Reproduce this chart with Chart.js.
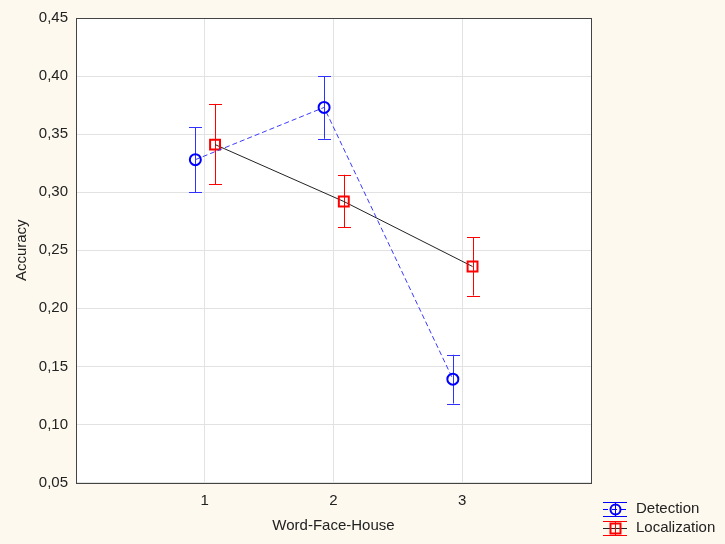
<!DOCTYPE html>
<html>
<head>
<meta charset="utf-8">
<script src="https://cdn.jsdelivr.net/npm/chart.js@4"></script>
<style>
html,body{margin:0;padding:0;background:#FDF9EE;}
#wrap{width:725px;height:544px;}
</style>
</head>
<body>
<div id="wrap"><canvas id="c" width="725" height="544"></canvas></div>
<script>
// ---- data ----
const categories = [1, 2, 3];
const xTickLabels = ['1', '2', '3'];
const seriesNames = ['Detection', 'Localization'];
const detection = [0.328, 0.373, 0.139];
const detectionLow = [0.300, 0.346, 0.118];
const detectionHigh = [0.356, 0.400, 0.160];
const localization = [0.341, 0.292, 0.236];
const localizationLow = [0.307, 0.270, 0.211];
const localizationHigh = [0.376, 0.315, 0.261];
const yTicks = [0.05, 0.10, 0.15, 0.20, 0.25, 0.30, 0.35, 0.40, 0.45];

// ---- style ----
const DODGE_DET = -0.073, DODGE_LOC = 0.08;
const BLUE = '#0000FF', RED = '#FF0000';
const BG = '#FDF9EE';
const FONT_SIZE = 15;

const detPts = categories.map((c, i) => ({x: c + DODGE_DET, y: detection[i], lo: detectionLow[i], hi: detectionHigh[i]}));
const locPts = categories.map((c, i) => ({x: c + DODGE_LOC, y: localization[i], lo: localizationLow[i], hi: localizationHigh[i]}));

Chart.defaults.font.family = '"Liberation Sans", Arial, sans-serif';
Chart.defaults.font.size = FONT_SIZE;
Chart.defaults.color = '#222';

const bgPlugin = {
  id: 'bg',
  beforeDraw(chart) {
    const {ctx, chartArea: a} = chart;
    ctx.save();
    ctx.fillStyle = BG;
    ctx.fillRect(0, 0, chart.width, chart.height);
    ctx.fillStyle = '#FFFFFF';
    ctx.fillRect(a.left, a.top, a.right - a.left, a.bottom - a.top);
    ctx.restore();
  },
  afterDatasetsDraw(chart) {
    const {ctx, chartArea: a} = chart;
    ctx.save();
    ctx.strokeStyle = '#444444';
    ctx.lineWidth = 1;
    ctx.strokeRect(Math.round(a.left) + 0.5, Math.round(a.top) + 0.5, Math.round(a.right - a.left), Math.round(a.bottom - a.top));
    ctx.restore();
  }
};

const errPlugin = {
  id: 'errbars',
  beforeDatasetsDraw(chart) {
    const {ctx, scales: {x, y}} = chart;
    const sets = [[detPts, '#3030FF'], [locPts, RED]];
    ctx.save();
    ctx.lineWidth = 1;
    sets.forEach(([pts, col]) => {
      ctx.strokeStyle = col;
      pts.forEach(p => {
        const px = Math.round(x.getPixelForValue(p.x)) + 0.5;
        const yl = y.getPixelForValue(p.lo), yh = y.getPixelForValue(p.hi);
        ctx.beginPath();
        ctx.moveTo(px, yl); ctx.lineTo(px, yh);
        ctx.moveTo(px - 6.5, Math.round(yl) + 0.5); ctx.lineTo(px + 6.5, Math.round(yl) + 0.5);
        ctx.moveTo(px - 6.5, Math.round(yh) + 0.5); ctx.lineTo(px + 6.5, Math.round(yh) + 0.5);
        ctx.stroke();
      });
    });
    ctx.restore();
  }
};

const legendPlugin = {
  id: 'customLegend',
  afterDraw(chart) {
    const ctx = chart.ctx;
    const x0 = 603, x1 = 627, cx = 615;
    ctx.save();
    ctx.lineWidth = 1;
    // Detection
    let cy = 509;
    ctx.strokeStyle = BLUE;
    ctx.beginPath();
    ctx.moveTo(x0, cy - 7 + 0.5); ctx.lineTo(x1, cy - 7 + 0.5);
    ctx.moveTo(x0, cy + 7 + 0.5); ctx.lineTo(x1, cy + 7 + 0.5);
    ctx.moveTo(cx + 0.5, cy - 7); ctx.lineTo(cx + 0.5, cy + 7);
    ctx.stroke();
    ctx.setLineDash([5, 4]);
    ctx.beginPath();
    ctx.moveTo(x0, cy + 0.5); ctx.lineTo(x1, cy + 0.5);
    ctx.stroke();
    ctx.setLineDash([]);
    ctx.lineWidth = 2;
    ctx.beginPath();
    ctx.arc(cx + 0.5, cy + 0.5, 5, 0, Math.PI * 2);
    ctx.stroke();
    // Localization
    cy = 528;
    ctx.lineWidth = 1;
    ctx.strokeStyle = RED;
    ctx.beginPath();
    ctx.moveTo(x0, cy - 7 + 0.5); ctx.lineTo(x1, cy - 7 + 0.5);
    ctx.moveTo(x0, cy + 7 + 0.5); ctx.lineTo(x1, cy + 7 + 0.5);
    ctx.moveTo(cx + 0.5, cy - 7); ctx.lineTo(cx + 0.5, cy + 7);
    ctx.stroke();
    ctx.strokeStyle = '#222';
    ctx.beginPath();
    ctx.moveTo(x0, cy + 0.5); ctx.lineTo(x1, cy + 0.5);
    ctx.stroke();
    ctx.strokeStyle = RED;
    ctx.lineWidth = 2;
    ctx.strokeRect(cx - 4.5, cy - 4.5, 10, 10);
    ctx.lineWidth = 1;
    ctx.beginPath();
    ctx.moveTo(cx + 0.5, cy - 7); ctx.lineTo(cx + 0.5, cy + 7);
    ctx.stroke();
    // text
    ctx.fillStyle = '#222';
    ctx.font = FONT_SIZE + 'px "Liberation Sans", Arial, sans-serif';
    ctx.textBaseline = 'middle';
    ctx.textAlign = 'left';
    ctx.fillText(seriesNames[0], 636, 509);
    ctx.fillText(seriesNames[1], 636, 528);
    ctx.restore();
  }
};

new Chart(document.getElementById('c'), {
  type: 'scatter',
  data: {
    datasets: [
      {
        label: seriesNames[1],
        data: locPts,
        showLine: true,
        borderColor: '#222222',
        borderWidth: 1,
        pointStyle: 'rect',
        pointRadius: 7,
        pointBorderColor: RED,
        pointBackgroundColor: 'rgba(255,255,255,0)',
        pointBorderWidth: 2,
        order: 2
      },
      {
        label: seriesNames[0],
        data: detPts,
        showLine: true,
        borderColor: '#3a3aFF',
        borderWidth: 1,
        borderDash: [5, 3],
        pointStyle: 'circle',
        pointRadius: 5.5,
        pointBorderColor: BLUE,
        pointBackgroundColor: 'rgba(255,255,255,0)',
        pointBorderWidth: 2,
        order: 1
      }
    ]
  },
  options: {
    responsive: false,
    animation: false,
    devicePixelRatio: 1,
    layout: {padding: {top: 18, right: 134, left: 0, bottom: 0}},
    plugins: {legend: {display: false}, tooltip: {enabled: false}},
    scales: {
      x: {
        type: 'linear',
        min: 0, max: 4,
        afterBuildTicks(scale) {
          scale.ticks = [0].concat(categories).concat([4]).map(v => ({value: v}));
        },
        afterFit(scale) { scale.height = 61.5; },
        grid: {color: '#E2E2E2', drawTicks: false},
        border: {display: false},
        ticks: {
          padding: 9,
          color: '#222',
          callback(v) { const i = categories.indexOf(v); return i >= 0 ? xTickLabels[i] : ''; }
        },
        title: {display: true, text: 'Word-Face-House', color: '#222', font: {size: FONT_SIZE}, padding: {top: 0, bottom: 9}}
      },
      y: {
        type: 'linear',
        min: 0.05, max: 0.45,
        afterBuildTicks(scale) {
          scale.ticks = yTicks.map(v => ({value: v}));
        },
        afterFit(scale) { scale.width = 76; },
        grid: {color: '#E2E2E2', drawTicks: false},
        border: {display: false},
        ticks: {
          padding: 8,
          color: '#222',
          callback(v) { return Number(v).toFixed(2).replace('.', ','); }
        },
        title: {display: true, text: 'Accuracy', color: '#222', font: {size: FONT_SIZE}, padding: {top: 12.5, bottom: 0}}
      }
    }
  },
  plugins: [bgPlugin, errPlugin, legendPlugin]
});
</script>
</body>
</html>
